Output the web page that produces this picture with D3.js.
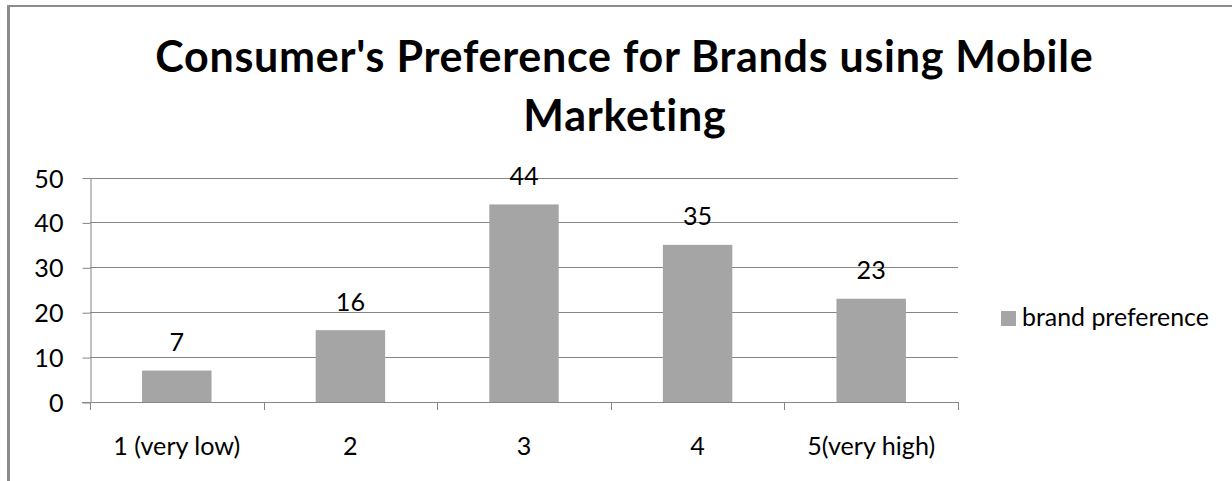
<!DOCTYPE html>
<html>
<head>
<meta charset="utf-8">
<script src="https://cdn.jsdelivr.net/npm/d3@7"></script>
<style>
  html, body { margin: 0; padding: 0; background: #ffffff; }
  svg { display: block; font-family: Lato, "Open Sans", sans-serif; font-variant-ligatures: none; }
</style>
</head>
<body>
<svg id="chart" width="1232" height="481"></svg>
<script>
// Survey ratings and the number of respondents per rating
const categories = ["1 (very low)", "2", "3", "4", "5(very high)"];
const brandPreference = [7, 16, 44, 35, 23];
const yTickValues = [0, 10, 20, 30, 40, 50];
const titleLines = ["Consumer's Preference for Brands using Mobile", "Marketing"];
const seriesName = "brand preference";

const W = 1232, H = 481;
const plot = { left: 90, right: 958, top: 177.5, bottom: 402 };
const barColor = "#a5a5a5";
const gridColor = "#868686";

const svg = d3.select("#chart");

svg.append("rect").attr("width", W).attr("height", H).attr("fill", "#ffffff");

// outer frame (left and top edges visible)
svg.append("line").attr("x1", 8.5).attr("x2", 8.5).attr("y1", 5).attr("y2", H)
  .attr("stroke", "#8c8c8c").attr("stroke-width", 3);
svg.append("line").attr("x1", 7).attr("x2", W).attr("y1", 6).attr("y2", 6)
  .attr("stroke", "#8c8c8c").attr("stroke-width", 2);

// measure a string at a given size and weight
function measure(text, weight, size) {
  const t = svg.append("text").attr("font-size", size).attr("font-weight", weight).text(text);
  const w = t.node().getComputedTextLength();
  t.remove();
  return w;
}
// size a text element so that it spans the given width
function fitSize(text, weight, width) {
  return 100 * width / measure(text, weight, 100);
}
// letter spacing that makes a string span the given width at a fixed size
function fitSpacing(text, weight, size, width) {
  return (width - measure(text, weight, size)) / text.length;
}

const x = d3.scaleBand().domain(categories).range([plot.left, plot.right])
  .paddingInner(0.6).paddingOuter(0.3);
const y = d3.scaleLinear().domain([0, 50]).range([plot.bottom, plot.top]);

// title
const titleSize = 43;
const titleSpacing = fitSpacing(titleLines[0], 700, titleSize, 938);
const title = svg.append("g").attr("font-weight", 700).attr("font-size", titleSize)
  .attr("letter-spacing", titleSpacing)
  .attr("text-anchor", "middle").attr("fill", "#000");
title.append("text").attr("x", 624 + titleSpacing / 2).attr("y", 71.7).text(titleLines[0]);
title.append("text").attr("x", 624.5 + titleSpacing / 2).attr("y", 130.7).text(titleLines[1]);

const labelSize = fitSize(categories[0], 400, 127);

// horizontal gridlines
svg.append("g").selectAll("line").data(yTickValues).join("line")
  .attr("x1", plot.left).attr("x2", plot.right)
  .attr("y1", d => Math.round(y(d)) + 0.5).attr("y2", d => Math.round(y(d)) + 0.5)
  .attr("stroke", gridColor).attr("stroke-width", 1);

// y axis
const yAxis = svg.append("g").attr("transform", `translate(${plot.left + 0.5},0.5)`)
  .call(d3.axisLeft(y).tickValues(yTickValues).tickSize(8).tickSizeOuter(0).tickPadding(19));
yAxis.selectAll("path, line").attr("stroke", gridColor);
yAxis.selectAll("text").attr("font-size", labelSize).attr("font-family", "Lato, sans-serif")
  .attr("fill", "#000").attr("dy", "0.36em");

// x axis with labels under each bar
const xAxis = svg.append("g").attr("transform", `translate(0,${Math.round(plot.bottom) + 0.5})`)
  .call(d3.axisBottom(x).tickSize(0).tickSizeOuter(0));
xAxis.select("path").attr("stroke", gridColor).attr("d", `M${plot.left - 8},0H${plot.right}`);
xAxis.selectAll("text").attr("font-size", labelSize).attr("font-family", "Lato, sans-serif")
  .attr("fill", "#000").attr("y", 52).attr("dy", null);

// boundary tick marks between categories
const bounds = d3.range(categories.length + 1).map(i => plot.left + i * x.step());
svg.append("g").selectAll("line").data(bounds).join("line")
  .attr("x1", d => Math.round(d) + 0.5).attr("x2", d => Math.round(d) + 0.5)
  .attr("y1", plot.bottom).attr("y2", plot.bottom + 8)
  .attr("stroke", gridColor);

// bars
svg.append("g").selectAll("rect").data(brandPreference).join("rect")
  .attr("x", (d, i) => x(categories[i]))
  .attr("width", x.bandwidth())
  .attr("y", d => y(d))
  .attr("height", d => y(0) - y(d))
  .attr("fill", barColor);

// value labels
svg.append("g").attr("font-size", labelSize).attr("text-anchor", "middle").attr("fill", "#000")
  .selectAll("text").data(brandPreference).join("text")
  .attr("x", (d, i) => x(categories[i]) + x.bandwidth() / 2)
  .attr("y", d => y(d) - 19.5)
  .text(d => d);

// legend
const legendSize = fitSize(seriesName, 400, 187);
const legend = svg.append("g");
legend.append("rect").attr("x", 1001).attr("y", 311).attr("width", 15).attr("height", 15)
  .attr("fill", barColor);
legend.append("text").attr("x", 1022).attr("y", 326).attr("font-size", legendSize)
  .attr("fill", "#000").text(seriesName);
</script>
</body>
</html>
